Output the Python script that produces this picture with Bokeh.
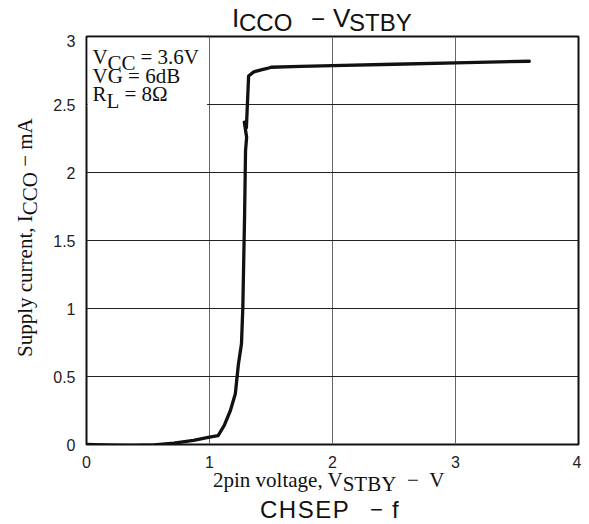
import math
from bokeh.plotting import figure
from bokeh.models import Range1d, Label, BoxAnnotation, FixedTicker, Div
from bokeh.layouts import column, row
from bokeh.embed import file_html
from bokeh.resources import INLINE

# ---- data ----
v_stby = [0.00, 0.20, 0.385, 0.55, 0.71, 0.87, 1.00, 1.07, 1.12, 1.17, 1.21, 1.235,
          1.26, 1.271, 1.285, 1.293, 1.302, 1.283, 1.300, 1.318, 1.36, 1.42, 1.47,
          1.50, 1.74, 2.00, 2.50, 3.00, 3.60]
i_cco = [0.000, -0.004, -0.007, -0.003, 0.010, 0.030, 0.054, 0.066, 0.140, 0.250, 0.373, 0.590,
         0.740, 1.010, 1.670, 2.160, 2.260, 2.370, 2.330, 2.710, 2.740, 2.755, 2.765,
         2.774, 2.780, 2.786, 2.796, 2.806, 2.818]
x_ticks = [0, 1, 2, 3, 4]
y_ticks = [0, 0.5, 1, 1.5, 2, 2.5, 3]
y_tick_labels = {0: "0", 0.5: "0.5", 1: "1", 1.5: "1.5", 2: "2", 2.5: "2.5", 3: "3"}

# ---- page geometry (px) ----
TOTAL_W = 581
LEFT_W = 44              # y-title column
TOP_H = 34               # title strip
FIG_W = TOTAL_W - LEFT_W
FIG_H = 436
BOT_H = 50
FL, FT = 86, 36          # plot frame left/top on the page
XU, YU = 123.0, 136.0    # px per data unit

SANS = "Liberation Sans"
SERIF = "Liberation Serif"


def dx(px):
    return (px - FL) / XU


def dy(py):
    return (FT + 3 * YU - py) / YU


p = figure(width=FIG_W, height=FIG_H, output_backend="svg", toolbar_location=None,
           x_range=Range1d(0, 4), y_range=Range1d(0, 3),
           min_border_left=FL - LEFT_W, min_border_right=TOTAL_W - (FL + 4 * 123),
           min_border_top=FT - TOP_H, min_border_bottom=FIG_H - (FT - TOP_H) - 408)
p.background_fill_color = "white"
p.border_fill_color = "white"
p.outline_line_color = "#111111"
p.outline_line_width = 2

for ax in (p.xaxis[0], p.yaxis[0]):
    ax.axis_line_color = None
    ax.major_tick_line_color = None
    ax.minor_tick_line_color = None
    ax.major_label_text_font = SANS
    ax.major_label_text_font_size = "16px"
    ax.major_label_text_color = "#222222"
    ax.major_label_standoff = 5
p.xaxis.ticker = FixedTicker(ticks=x_ticks)
p.yaxis.ticker = FixedTicker(ticks=y_ticks)
p.yaxis.major_label_overrides = {k: v for k, v in y_tick_labels.items()}

p.xgrid.ticker = FixedTicker(ticks=x_ticks[1:-1])
p.ygrid.ticker = FixedTicker(ticks=y_ticks[1:-1])
p.xgrid.grid_line_color = "#666666"
p.ygrid.grid_line_color = "#222222"
p.xgrid.grid_line_width = 1
p.ygrid.grid_line_width = 1

# white box behind the conditions text (hides the 2.5 grid line there)
p.add_layout(BoxAnnotation(left=0.01, right=0.98, bottom=2.48, top=2.99,
                           fill_color="white", fill_alpha=1.0, line_color=None,
                           level="underlay"))

p.line(v_stby, i_cco, line_color="#111111", line_width=3.3,
       line_join="round", line_cap="round")


def put(text, px, py, size=21):
    p.add_layout(Label(x=dx(px), y=dy(py), text=text, text_font=SERIF,
                       text_font_size=f"{size}px", text_color="#111111",
                       text_align="left", text_baseline="alphabetic"))


# conditions (inside the frame)
put("V", 92, 56)
put("CC", 107, 62)
put("= 3.6V", 140, 56)
put("VG = 6dB", 92, 75)
put("R", 92, 93)
put("L", 106, 100)
put("= 8Ω", 124, 93)


# ---- texts outside the frame, as HTML ----
ASC = {SANS: 0.8465, SERIF: 0.8375}   # baseline offset for line-height = font size


def piece(html, x, baseline, font, size, extra=""):
    top = baseline - ASC[font] * size
    return (f'<div style="position:absolute;left:{x}px;top:{top:.1f}px;'
            f'font-family:\'{font}\';font-size:{size}px;line-height:{size}px;'
            f'white-space:nowrap;color:#111;{extra}">{html}</div>')


def box(w, h, inner):
    return f'<div style="position:relative;width:{w}px;height:{h}px;overflow:visible;">{inner}</div>'


def sub(t, d=5):
    return f'<span style="position:relative;top:{d}px;">{t}</span>'


# title strip (page y 0..TOP_H)
title_html = (piece("I", 232, 27, SANS, 26) + piece("CCO", 239, 31, SANS, 24)
              + piece("−", 311, 27, SANS, 24) + piece("V", 333, 27, SANS, 26)
              + piece("STBY", 349, 31, SANS, 24))
top_div = Div(text=box(TOTAL_W, TOP_H, title_html), width=TOTAL_W, height=TOP_H,
              margin=0, styles={"overflow": "visible"})

# y title column (page y TOP_H..TOP_H+FIG_H), rotated
ysize = 21
ytop = 357 - TOP_H
yleft = 32.5 - ASC[SERIF] * ysize
ylab = (f'<div style="position:absolute;left:{yleft:.1f}px;top:{ytop}px;'
        f'font-family:\'{SERIF}\';font-size:{ysize}px;line-height:{ysize}px;'
        f'white-space:nowrap;color:#111;transform-origin:0 0;transform:rotate(-90deg);">'
        f'Supply current, I{sub("CCO")}&nbsp;−&nbsp;mA</div>')
left_div = Div(text=box(LEFT_W, FIG_H, ylab), width=LEFT_W, height=FIG_H,
               margin=0, styles={"overflow": "visible"})

# bottom strip (page y TOP_H+FIG_H ..)
b0 = TOP_H + FIG_H
bottom_html = (piece(f"2pin voltage, V{sub('STBY', 4)}&nbsp;&nbsp;−&nbsp;&nbsp;V", 213, 488 - b0, SERIF, 21)
               + piece("CHSEP", 260, 518 - b0, SANS, 24, "letter-spacing:1.5px;")
               + piece("−", 370, 518 - b0, SANS, 22)
               + piece("f", 392, 518 - b0, SANS, 24))
bottom_div = Div(text=box(TOTAL_W, BOT_H, bottom_html), width=TOTAL_W, height=BOT_H,
                 margin=0, styles={"overflow": "visible"})

layout = column(top_div, row(left_div, p, spacing=0), bottom_div, spacing=0)

open("out.html", "w").write(file_html(layout, INLINE))
